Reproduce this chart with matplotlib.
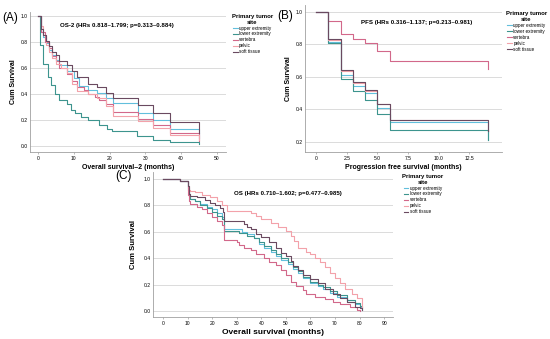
import matplotlib
matplotlib.use("Agg")
import matplotlib.pyplot as plt

plt.rcParams['font.family'] = ['Liberation Sans', 'DejaVu Sans']

GROUPS = ['upper extremity', 'lower extremity', 'vertebra', 'pelvic', 'soft tissue']
COLORS = ['#62bfdc', '#3d948e', '#d2688a', '#f3a2aa', '#6a4a60']

# Panel A: OS-2 (months) -- step times and survival, last pair is the final drop
A_T = {
    'upper extremity': [0, 1, 1.5, 2.2, 3, 4, 5, 6, 8, 10, 11.5, 14, 16.5, 19, 21, 28, 32, 37, 45, 45],
    'lower extremity': [0, 0.5, 1.4, 2.8, 3.7, 4.7, 6, 8, 9.3, 10.3, 12, 14, 17, 19.2, 20.6, 27.7, 32, 37, 45, 45],
    'vertebra':        [0, 1, 2, 3, 4, 5, 6, 8, 9.5, 11, 13, 14, 16, 17, 19, 21, 28, 32, 37, 45, 45],
    'pelvic':          [0, 1, 1.5, 2.2, 3, 4, 5, 6.5, 8, 9.5, 11, 14, 16.5, 19, 21, 28, 32, 37, 45, 45],
    'soft tissue':     [0, 1, 1.5, 2.2, 3, 4, 5, 6, 8, 9.5, 11, 14, 16.5, 19, 21, 28, 32, 37, 45, 45],
}
A_S = {
    'upper extremity': [1, 0.88, 0.84, 0.79, 0.74, 0.70, 0.66, 0.62, 0.58, 0.52, 0.46, 0.43, 0.41, 0.37, 0.33, 0.25, 0.2, 0.13, 0.13, 0.06],
    'lower extremity': [1, 0.78, 0.63, 0.53, 0.47, 0.40, 0.35, 0.32, 0.28, 0.25, 0.22, 0.20, 0.16, 0.13, 0.115, 0.077, 0.05, 0.028, 0.028, 0.015],
    'vertebra':        [1, 0.88, 0.80, 0.75, 0.69, 0.65, 0.60, 0.55, 0.50, 0.45, 0.43, 0.40, 0.38, 0.35, 0.32, 0.26, 0.21, 0.16, 0.1, 0.1, 0.04],
    'pelvic':          [1, 0.92, 0.85, 0.78, 0.72, 0.68, 0.63, 0.60, 0.56, 0.48, 0.42, 0.40, 0.37, 0.31, 0.23, 0.19, 0.14, 0.085, 0.085, 0.05],
    'soft tissue':     [1, 0.90, 0.85, 0.81, 0.77, 0.72, 0.70, 0.65, 0.62, 0.58, 0.53, 0.48, 0.45, 0.41, 0.367, 0.315, 0.256, 0.187, 0.187, 0.1],
}

# Panel B: PFS (months)
B_T = [0, 1, 2, 3, 4, 5, 6, 14, 14]
B_S = {
    'upper extremity': [1, 0.815, 0.615, 0.545, 0.50, 0.41, 0.32, 0.32, 0.21],
    'lower extremity': [1, 0.81, 0.59, 0.515, 0.46, 0.37, 0.275, 0.275, 0.21],
    'vertebra':        [1, 0.945, 0.867, 0.832, 0.81, 0.76, 0.70, 0.70, 0.65],
    'pelvic':          [1, 0.83, 0.635, 0.56, 0.515, 0.435, 0.335, 0.335, 0.27],
    'soft tissue':     [1, 0.835, 0.64, 0.57, 0.52, 0.435, 0.335, 0.335, 0.27],
}

# Panel C: OS (months)
C_T = {
    'upper extremity': [0, 7, 10, 10.5, 11, 13, 15, 18, 20, 22, 24, 25, 32, 34, 37, 39, 41, 44, 46, 48, 51, 53, 55, 57, 60, 63, 65, 68, 71, 75, 78, 80, 81, 81],
    'lower extremity': [0, 7, 10, 10.5, 11, 13, 15, 18, 20, 22, 24, 25, 31, 34, 37, 39, 41, 44, 46, 48, 51, 53, 55, 57, 60, 63, 65, 68, 71, 75, 78, 80, 81, 81],
    'vertebra':        [0, 7, 10, 10.5, 11, 14, 16, 18, 20, 22, 24, 25, 30, 31, 33, 36, 38, 41, 43, 46, 48, 50, 52, 54, 57, 58, 62, 66, 69, 72, 76, 79, 80, 80],
    'pelvic':          [0, 7, 10, 10.5, 11, 13, 16, 19, 22, 24, 26, 36, 38, 40, 44, 47, 50, 52, 53.5, 55, 58, 60, 62, 64, 66, 68, 70, 72, 74, 77, 79, 81, 81],
    'soft tissue':     [0, 7, 10, 10.5, 11, 14, 17, 19, 21, 23, 24.5, 25, 33, 34, 36, 38, 40, 43, 46, 48, 50, 52, 53, 55, 57, 60, 63, 66, 69, 72, 75, 78, 80, 81, 81],
}
C_S = {
    'upper extremity': [1, 0.985, 0.93, 0.89, 0.85, 0.83, 0.81, 0.79, 0.77, 0.74, 0.71, 0.62, 0.60, 0.58, 0.55, 0.51, 0.48, 0.45, 0.42, 0.39, 0.36, 0.32, 0.29, 0.25, 0.21, 0.19, 0.17, 0.14, 0.11, 0.07, 0.05, 0.03, 0.03, 0.01],
    'lower extremity': [1, 0.985, 0.92, 0.87, 0.85, 0.83, 0.80, 0.78, 0.75, 0.72, 0.70, 0.61, 0.59, 0.57, 0.55, 0.52, 0.49, 0.46, 0.43, 0.40, 0.37, 0.33, 0.30, 0.26, 0.22, 0.20, 0.18, 0.15, 0.12, 0.08, 0.06, 0.04, 0.04, 0.02],
    'vertebra':        [1, 0.985, 0.88, 0.83, 0.81, 0.79, 0.77, 0.74, 0.71, 0.68, 0.65, 0.54, 0.52, 0.50, 0.48, 0.46, 0.43, 0.40, 0.37, 0.35, 0.31, 0.27, 0.22, 0.19, 0.16, 0.13, 0.11, 0.09, 0.07, 0.05, 0.03, 0.01, 0.01, 0.0],
    'pelvic':          [1, 0.985, 0.95, 0.92, 0.91, 0.90, 0.88, 0.86, 0.83, 0.80, 0.76, 0.74, 0.72, 0.70, 0.67, 0.64, 0.61, 0.57, 0.53, 0.48, 0.45, 0.43, 0.40, 0.37, 0.33, 0.29, 0.25, 0.21, 0.17, 0.13, 0.10, 0.10, 0.03],
    'soft tissue':     [1, 0.985, 0.95, 0.89, 0.87, 0.86, 0.84, 0.82, 0.80, 0.78, 0.75, 0.68, 0.66, 0.64, 0.62, 0.58, 0.56, 0.52, 0.48, 0.44, 0.42, 0.38, 0.34, 0.31, 0.27, 0.24, 0.21, 0.17, 0.13, 0.10, 0.07, 0.03, 0.02, 0.02, 0.01],
}

A_XTICKS = [0, 10, 20, 30, 40, 50]
B_XTICKS = [0, 2.5, 5.0, 7.5, 10.0, 12.5]
B_XLABELS = ['0', '2.5', '5.0', '7.5', '10.0', '12.5']
C_XTICKS = [0, 10, 20, 30, 40, 50, 60, 70, 80, 90]

W, H = 550, 339
fig = plt.figure(figsize=(W / 100, H / 100), dpi=100)


def px_axes(x0, y0, x1, y1):
    return fig.add_axes([x0 / W, 1 - y1 / H, (x1 - x0) / W, (y1 - y0) / H])


def style(ax, yticks, xticks):
    for s in ['top', 'right']:
        ax.spines[s].set_visible(False)
    for s in ['left', 'bottom']:
        ax.spines[s].set_color('#a0a0a0')
        ax.spines[s].set_linewidth(0.6)
    ax.set_yticks(yticks)
    ax.set_yticklabels(['%.1f' % v for v in yticks])
    ax.set_xticks(xticks)
    ax.tick_params(labelsize=3.6, length=1.5, width=0.5, color='#a0a0a0', pad=1.5)
    ax.tick_params(axis='y', length=0)
    for v in yticks:
        ax.axhline(v, color='#d6d6d6', lw=0.6, zorder=0)


def legend(ax, x, y):
    leg = ax.legend(title='Primary tumor\nsite', loc='upper left', bbox_to_anchor=(x, y),
                    frameon=False, fontsize=3.3, title_fontsize=4.3, labelspacing=0.2,
                    handlelength=1.0, handletextpad=0.3, borderaxespad=0)
    leg.get_title().set_fontweight('bold')
    leg.get_title().set_multialignment('center')
    return leg


# Panel A
axA = px_axes(30, 12, 226, 152)
for g, c in zip(GROUPS, COLORS):
    axA.step(A_T[g], A_S[g], where='post', color=c, lw=0.8, label=g)
axA.set_xlim(-2.2, 52.5)
axA.set_ylim(-0.046, 1.03)
style(axA, [0.0, 0.2, 0.4, 0.6, 0.8, 1.0], A_XTICKS)
axA.set_ylabel('Cum Survival', fontsize=5, fontweight='bold', labelpad=3)
axA.set_xlabel('Overall survival–2 (months)', fontsize=5, fontweight='bold', labelpad=2)
axA.text(0.444, 0.907, 'OS-2 (HRs 0.818–1.799; p=0.313–0.884)', transform=axA.transAxes,
         ha='center', va='center', fontsize=4.4, fontweight='bold')
legend(axA, 1.02, 1.0)
fig.text(2 / W, 1 - 18 / H, '(A)', fontsize=8.5, va='center')

# Panel B
axB = px_axes(305, 5, 502, 152)
for g, c in zip(GROUPS, COLORS):
    axB.step(B_T, B_S[g], where='post', color=c, lw=0.8, label=g)
axB.set_xlim(-0.9, 15.15)
axB.set_ylim(0.138, 1.043)
style(axB, [0.2, 0.4, 0.6, 0.8, 1.0], B_XTICKS)
axB.set_xticklabels(B_XLABELS)
axB.set_ylabel('Cum Survival', fontsize=5, fontweight='bold', labelpad=3)
axB.set_xlabel('Progression free survival (months)', fontsize=5, fontweight='bold', labelpad=2)
axB.text(0.569, 0.878, 'PFS (HRs 0.316–1.137; p=0.213–0.981)', transform=axB.transAxes,
         ha='center', va='center', fontsize=4.4, fontweight='bold')
legend(axB, 1.01, 0.97)
fig.text(277 / W, 1 - 16 / H, '(B)', fontsize=8.5, va='center')

# Panel C
axC = px_axes(153, 172, 393, 317)
for g, c in zip(GROUPS, COLORS):
    axC.step(C_T[g], C_S[g], where='post', color=c, lw=0.8, label=g)
axC.set_xlim(-4.07, 93.6)
axC.set_ylim(-0.045, 1.053)
style(axC, [0.0, 0.2, 0.4, 0.6, 0.8, 1.0], C_XTICKS)
axC.set_ylabel('Cum Survival', fontsize=5.5, fontweight='bold', labelpad=5)
axC.set_xlabel('Overall survival (months)', fontsize=6, fontweight='bold', labelpad=2)
axC.text(0.5625, 0.855, 'OS (HRs 0.710–1.602; p=0.477–0.985)', transform=axC.transAxes,
         ha='center', va='center', fontsize=4.4, fontweight='bold')
legend(axC, 1.03, 1.0)
fig.text(115 / W, 1 - 176 / H, '(C)', fontsize=8.5, va='center')

fig.savefig('out.png', dpi=100)
